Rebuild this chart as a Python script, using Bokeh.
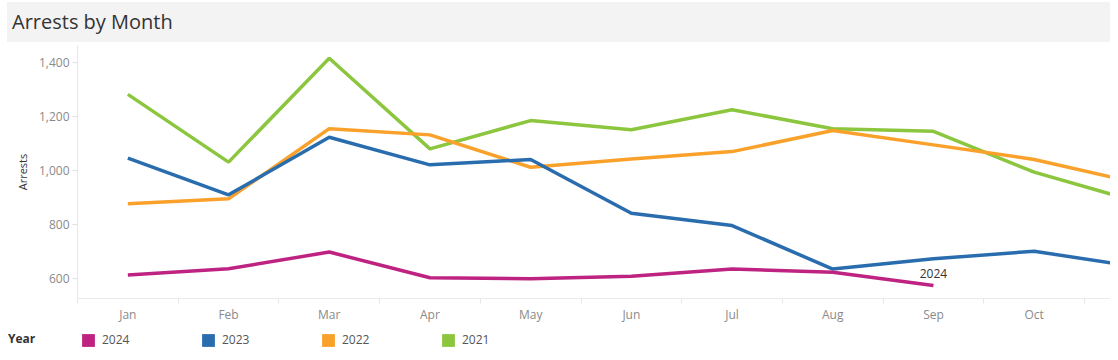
from bokeh.plotting import figure
from bokeh.layouts import column, row
from bokeh.models import (Div, Range1d, FixedTicker, NumeralTickFormatter, Legend,
                          LegendItem)
from bokeh.core.properties import value
from bokeh.embed import file_html
from bokeh.resources import INLINE

months = ["Jan", "Feb", "Mar", "Apr", "May", "Jun", "Jul", "Aug", "Sep", "Oct", "Nov"]
years = ["2024", "2023", "2022", "2021"]
arrests_2024 = [614, 637, 699, 604, 600, 609, 636, 624, 575]
arrests_2023 = [1047, 911, 1124, 1022, 1042, 843, 797, 636, 674, 702, 645]
arrests_2022 = [878, 896, 1156, 1133, 1013, 1044, 1071, 1149, 1096, 1042, 957]
arrests_2021 = [1283, 1032, 1417, 1081, 1186, 1152, 1226, 1156, 1146, 995, 888]
y_ticks = [600, 800, 1000, 1200, 1400]

colors = {"2024": "#BE2381", "2023": "#2A6DAE", "2022": "#F9A12A", "2021": "#8CC63E"}
series = {"2024": arrests_2024, "2023": arrests_2023, "2022": arrests_2022, "2021": arrests_2021}

FONT = "Open Sans"
W = 1103
LEFT = 70

p = figure(width=W, height=284, output_backend="svg", toolbar_location=None,
           x_range=Range1d(-0.5, 9.758), y_range=Range1d(527, 1464),
           min_border_left=LEFT, min_border_right=0, min_border_top=3, min_border_bottom=28)
p.outline_line_color = None
p.grid.visible = False
p.background_fill_color = "white"
p.border_fill_color = "white"

for yr in ["2021", "2022", "2023", "2024"]:
    vals = series[yr]
    p.line(x=list(range(len(vals))), y=vals, line_color=colors[yr], line_width=3.5)

# end label for 2024
p.text(x=[len(arrests_2024) - 1], y=[arrests_2024[-1]], text=["2024"],
       text_font=value(FONT), text_font_size="12px", text_color="#333333",
       text_align="center", text_baseline="middle", y_offset=-12)

# axes
xa = p.xaxis[0]
xa.ticker = FixedTicker(ticks=list(range(len(months))),
                        minor_ticks=[i - 0.5 for i in range(len(months) + 1)])
xa.major_label_overrides = {i: m for i, m in enumerate(months)}
xa.major_tick_line_color = None
xa.minor_tick_line_color = "#e6e6e6"
xa.minor_tick_in = 0
xa.minor_tick_out = 5
xa.axis_line_color = "#ebebeb"
xa.major_label_text_font = FONT
xa.major_label_text_font_size = "12px"
xa.major_label_text_color = "#8a8a8a"
xa.major_label_standoff = 1

ya = p.yaxis[0]
ya.ticker = FixedTicker(ticks=y_ticks)
ya.formatter = NumeralTickFormatter(format="0,0")
ya.minor_tick_line_color = None
ya.major_tick_line_color = "#e0e0e0"
ya.major_tick_in = 0
ya.major_tick_out = 5
ya.axis_line_color = "#e6e6e6"
ya.major_label_text_font = FONT
ya.major_label_text_font_size = "12px"
ya.major_label_text_color = "#8a8a8a"
ya.major_label_standoff = 3
ya.axis_label = "Arrests"
ya.axis_label_text_font = FONT
ya.axis_label_text_font_size = "11px"
ya.axis_label_text_font_style = "normal"
ya.axis_label_text_color = "#333333"
ya.axis_label_standoff = 6

# legend strip
lg = figure(width=W - LEFT, height=26, output_backend="svg", toolbar_location=None,
            x_range=Range1d(0, 1), y_range=Range1d(0, 1),
            x_axis_location=None, y_axis_location=None,
            min_border_left=0, min_border_right=0, min_border_top=0, min_border_bottom=0)
lg.outline_line_color = None
lg.grid.visible = False

nan = float("nan")
items = []
for yr in years:
    r = lg.quad(left=[nan], right=[nan], top=[nan], bottom=[nan],
                fill_color=colors[yr], line_color=None)
    items.append(LegendItem(label=yr, renderers=[r]))
legend = Legend(items=items, orientation="horizontal", location=(3, 4),
                glyph_width=16, glyph_height=16, label_standoff=6, label_width=88,
                spacing=10, padding=3, margin=0, border_line_color=None,
                background_fill_alpha=0, label_text_font=FONT,
                label_text_font_size="12px", label_text_color="#555555")
lg.add_layout(legend, "center")

year_div = Div(text="Year", width=LEFT, height=26, margin=0,
               styles={"font-family": FONT, "font-size": "12px", "font-weight": "bold",
                       "color": "#333333", "line-height": "26px", "padding-left": "1px",
                       "box-sizing": "border-box"})

title = Div(text="Arrests by Month", width=W, height=40, margin=0,
            styles={"background-color": "#f3f3f3", "font-family": FONT,
                    "font-size": "20px", "color": "#333333", "line-height": "40px",
                    "padding-left": "5px", "box-sizing": "border-box"})

layout = column(title, p, row(year_div, lg, spacing=0), spacing=0, margin=(2, 0, 0, 7))
open("out.html", "w").write(file_html(layout, INLINE))
